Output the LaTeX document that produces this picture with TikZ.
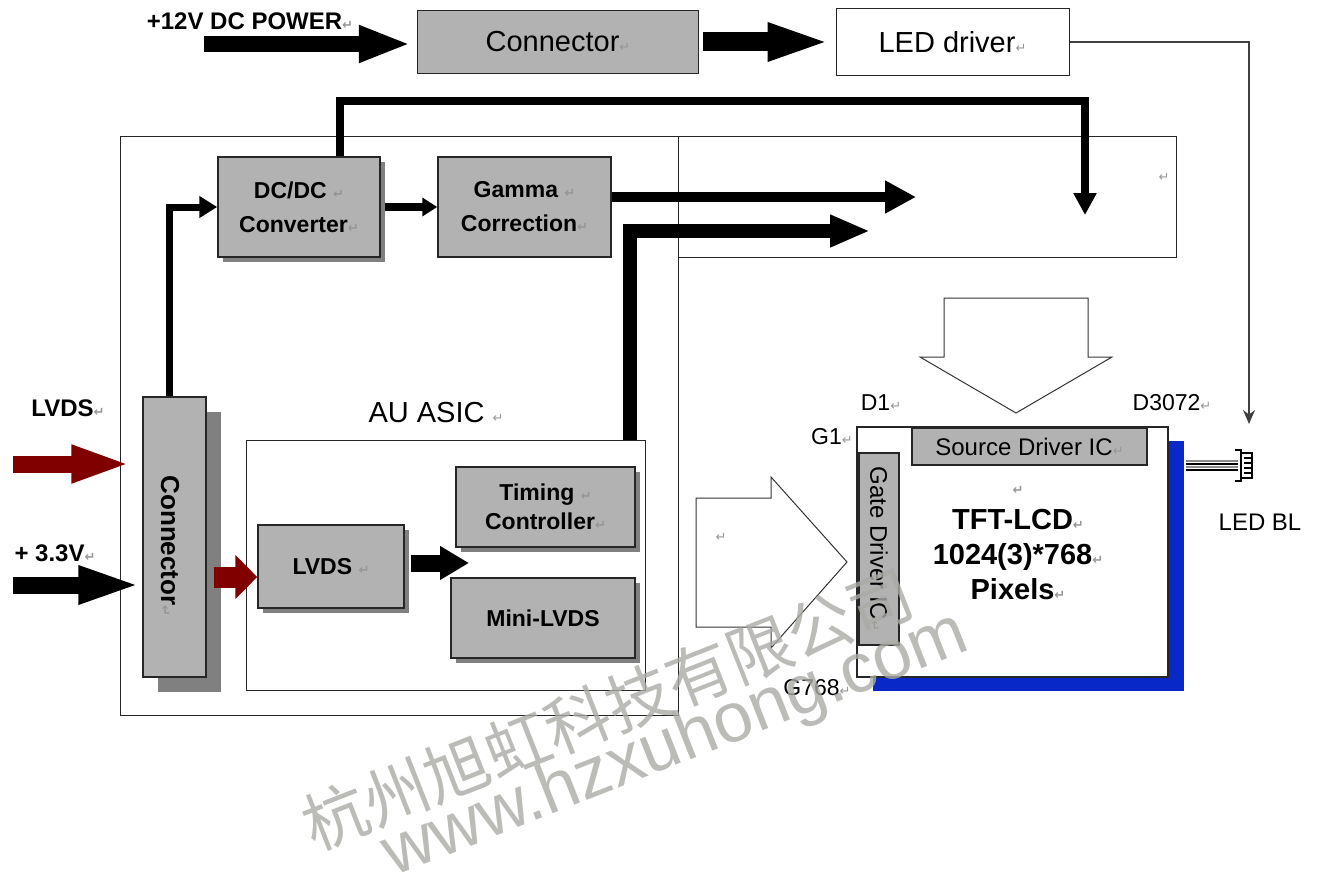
\documentclass[tikz,border=0pt]{standalone}
\usepackage{fontspec}
\setmainfont{Liberation Sans}
\newfontfamily\symfont{DejaVu Sans}
\newfontfamily\cjkfont{Noto Sans CJK SC}
\usetikzlibrary{arrows.meta,shadows}
\definecolor{boxgray}{RGB}{178,178,178}
\definecolor{shgray}{RGB}{128,128,128}
\definecolor{darkred}{RGB}{128,0,0}
\definecolor{lcdblue}{RGB}{8,40,200}
\definecolor{rtgray}{RGB}{150,150,150}
\definecolor{wmgray}{RGB}{170,170,165}
\newcommand\rt{{\symfont\fontsize{6.5}{6.5}\selectfont\color{rtgray}↵}}
\begin{document}
\begin{tikzpicture}[x=0.5pt, y=-0.5pt, line join=miter,
  gbox/.style={draw=black!85, line width=0.75pt, fill=boxgray, inner sep=0pt, align=center, font=\bfseries\fontsize{11.5}{17}\selectfont},
  shbox/.style={gbox, general shadow={fill=shgray, shadow xshift=#1, shadow yshift=-#1}},
  shbox/.default=2.5pt,
  thinbox/.style={draw=black!85, line width=0.5pt, inner sep=0pt},
  lbl/.style={inner sep=0pt, font=\bfseries\fontsize{12}{14}\selectfont},
  pinlbl/.style={inner sep=0pt, font=\fontsize{11.5}{13}\selectfont},
  hollow/.style={draw=black!80, line width=0.5pt, fill=white},
  wm/.style={inner sep=0pt, rotate=21.5, text=wmgray, text opacity=0.8}]
\useasboundingbox (0,0) rectangle (1317,888);

% top row
\node[lbl] (pwr) at (250,21) {+12V DC POWER\rt};
\node[gbox, font=\fontsize{14.5}{16}\selectfont, minimum width=140.5pt, minimum height=31.5pt] (conn) at (558,42) {Connector\rt};
\node[thinbox, font=\fontsize{14.5}{16}\selectfont, minimum width=116.5pt, minimum height=33.5pt] (led) at (952.5,42) {LED driver\rt};
\coordinate (p12) at (204,44);
\coordinate (bl) at (1249,424);
\draw[line width=8pt, -{Triangle[length=26pt,width=17pt]}, shorten >=3pt] (p12) -- (p12 -| conn.west);
\draw[line width=9.5pt, -{Triangle[length=32pt,width=17pt]}, shorten <=2pt, shorten >=2pt] (conn) -- (led);
\draw[black!75, line width=0.7pt, -{Stealth[length=7pt,width=6pt]}] (led.east) -| (bl);

% board and glass
\node[thinbox, minimum width=279pt, minimum height=289pt] (board) at (399,426) {};
\node[thinbox, minimum width=249pt, minimum height=60pt] (glass) at (927,197) {};
\node[inner sep=0pt] (glassrt) at (1164,177) {\rt};

\node[shbox, minimum width=81pt, minimum height=50pt] (dcdc) at (299,207) {DC/DC \rt\\Converter\rt};
\node[gbox, minimum width=86.5pt, minimum height=50pt] (gamma) at (524.5,207) {Gamma \rt\\Correction\rt};
\node[shbox=7.5pt, minimum width=31.5pt, minimum height=140pt] (vconn) at (174.5,537) {};
\node[rotate=-90, inner sep=0pt, font=\bfseries\fontsize{13}{15}\selectfont] (vtxt) at (170,546) {Connector\rt};

\node[thinbox, minimum width=199.5pt, minimum height=125pt] (asic) at (445.5,565) {};
\node[inner sep=0pt, font=\fontsize{14.5}{17}\selectfont] (asiclbl) at (436,413) {AU ASIC \rt};
\node[shbox, minimum width=73pt, minimum height=41.5pt] (lvds) at (331,566.5) {LVDS \rt};
\node[shbox, font=\bfseries\fontsize{11.5}{14.5}\selectfont, minimum width=89.5pt, minimum height=40pt] (tcon) at (545.5,507) {Timing \rt\\Controller\rt};
\node[shbox, minimum width=92pt, minimum height=40pt] (mini) at (543,618) {Mini-LVDS};

% inputs
\node[lbl] (lvdsin) at (68,408) {LVDS\rt};
\node[lbl] (v33) at (55,553) {+ 3.3V\rt};
\coordinate (lv0) at (13,464);
\coordinate (pw0) at (13,585);
\coordinate (rs0) at (214,577);
\coordinate (lt) at (469,563);
\draw[darkred, line width=8.5pt, -{Triangle[length=30pt,width=17pt]}, shorten >=5.5pt] (lv0) -- (lv0 -| vconn.west);
\draw[line width=8.5pt, -{Triangle[length=32pt,width=17pt]}] (pw0) -- (pw0 -| vconn.west);
\draw[darkred, line width=10.5pt, -{Triangle[length=11pt,width=21.5pt]}] (rs0) -- (rs0 -| lvds.west);
\draw[line width=8.5pt, -{Triangle[length=14.5pt,width=16pt]}, shorten <=3pt] (lvds.east |- lt) -- (lt);

% buses
\coordinate (gin1) at (1085,215);
\coordinate (gin2) at (916,197);
\coordinate (gin3) at (870,231);
\draw[line width=3.5pt, -{Triangle[length=9pt,width=10.5pt]}] ([xshift=-2.75pt]vconn.north) |- (dcdc.west);
\draw[line width=4pt, -{Triangle[length=7.5pt,width=9pt]}, shorten <=2pt] (dcdc) -- (gamma);
\draw[line width=4pt, -{Triangle[length=11pt,width=11pt]}] ([xshift=20.5pt]dcdc.north) -- ++(0,-55) -| (gin1);
\draw[line width=5pt, -{Triangle[length=15.5pt,width=15.5pt]}] (gamma.east |- gin2) -- (gin2);
\draw[line width=7pt, -{Triangle[length=20pt,width=15pt]}] ([xshift=92.25pt]asic.north) |- (gin3);

% panel
\draw[hollow] (944,298) -- (1088,298) -- (1088,357) -- (1112,357) -- (1016,413) -- (920,357) -- (944,357) -- cycle;
\draw[hollow] (696,498) -- (771,498) -- (771,477) -- (847,562) -- (771,648) -- (771,627) -- (696,627) -- cycle;
\node[inner sep=0pt] (arrt) at (721,537) {\rt};
\node[thinbox, line width=0.7pt, fill=white, general shadow={fill=lcdblue, shadow xshift=8pt, shadow yshift=-7pt}, minimum width=155.5pt, minimum height=125pt] (tft) at (1012.5,552) {};
\node[gbox, font=\fontsize{12}{14}\selectfont, minimum width=117.5pt, minimum height=18.5pt] (src) at (1029.5,446.5) {Source Driver IC\rt};
\node[gbox, rotate=-90, font=\fontsize{12}{14}\selectfont, minimum width=96pt, minimum height=20pt] (gate) at (879,549) {Gate Driver IC\rt};
\node[align=center, inner sep=0pt, font=\bfseries\fontsize{14.5}{17.5}\selectfont] (tfttxt) at (1018,543) {\rt\\TFT-LCD\rt\\1024(3)*768\rt\\Pixels\rt};
\node[pinlbl] (d1) at (881,403) {D1\rt};
\node[pinlbl] (g1) at (832,437) {G1\rt};
\node[pinlbl] (d3072) at (1172,403) {D3072\rt};
\node[pinlbl] (g768) at (817,688) {G768\rt};

% backlight plug
\foreach \y/\c in {461/black!45,464/black,467/black!45,470/black}
  \draw[\c, line width=0.7pt] (1186,\y) -- (1238,\y);
\draw[line width=0.8pt] (1235,450) -- (1241,450) -- (1241,481) -- (1235,481);
\draw[line width=0.6pt] (1241,453) rectangle (1252,478);
\foreach \y in {458,463,468,473}
  \draw[line width=0.9pt] (1244,\y) -- (1252,\y);
\node[inner sep=0pt, font=\fontsize{12}{14}\selectfont] (ledbl) at (1260,522) {LED BL};

% watermark
\node[wm, font=\cjkfont\fontsize{32.5}{33}\selectfont] (wm1) at (608,709) {杭州旭虹科技有限公司};
\node[wm, font=\fontsize{35}{35}\selectfont] (wm2) at (676,746) {www.hzxuhong.com};
\end{tikzpicture}
\end{document}
